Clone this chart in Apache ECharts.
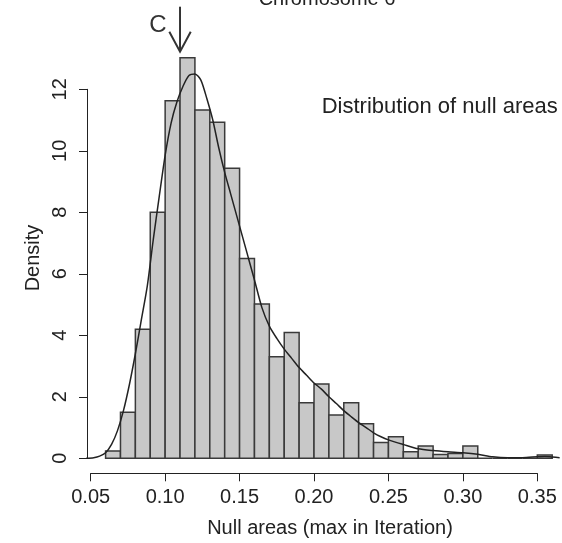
<!DOCTYPE html>
<html>
<head>
<meta charset="utf-8">
<script src="https://cdn.jsdelivr.net/npm/echarts@6/dist/echarts.min.js"></script>
<style>html,body{margin:0;padding:0;background:#fff}#c{width:562px;height:543px}</style>
</head>
<body>
<div id="c"></div>
<script>
// ---- data ----
const binLeft = [0.06,0.07,0.08,0.09,0.10,0.11,0.12,0.13,0.14,0.15,0.16,0.17,0.18,0.19,0.20,0.21,0.22,0.23,0.24,0.25,0.26,0.27,0.28,0.29,0.30,0.31,0.32,0.33,0.34,0.35];
const binRight = [0.07,0.08,0.09,0.10,0.11,0.12,0.13,0.14,0.15,0.16,0.17,0.18,0.19,0.20,0.21,0.22,0.23,0.24,0.25,0.26,0.27,0.28,0.29,0.30,0.31,0.32,0.33,0.34,0.35,0.36];
const binDensity = [0.24,1.50,4.20,8.00,11.63,13.03,11.33,10.93,9.43,6.50,5.02,3.30,4.09,1.81,2.42,1.41,1.81,1.12,0.51,0.70,0.21,0.40,0.12,0.16,0.40,0,0,0,0,0.11];
const curveX = [0.047,0.052,0.056,0.060,0.064,0.068,0.072,0.076,0.080,0.084,0.088,0.092,0.096,0.100,0.104,0.108,0.112,0.116,0.120,0.124,0.128,0.132,0.136,0.140,0.144,0.148,0.152,0.156,0.160,0.165,0.170,0.175,0.180,0.185,0.190,0.195,0.200,0.205,0.210,0.215,0.220,0.225,0.230,0.235,0.240,0.245,0.250,0.260,0.270,0.280,0.290,0.300,0.310,0.320,0.330,0.340,0.350,0.355,0.360,0.365];
const curveY = [0.0,0.02,0.07,0.18,0.45,0.90,1.55,2.40,3.40,4.50,5.60,7.10,8.50,9.85,10.90,11.60,12.10,12.45,12.50,12.30,11.70,11.00,10.10,9.30,8.60,7.90,7.20,6.50,5.80,4.90,4.30,3.90,3.55,3.25,2.95,2.70,2.45,2.25,2.00,1.78,1.55,1.35,1.16,1.00,0.83,0.70,0.60,0.45,0.31,0.25,0.21,0.18,0.13,0.05,0.02,0.02,0.05,0.06,0.04,0.02];
const xTicks = ['0.05','0.10','0.15','0.20','0.25','0.30','0.35'];
const yTicks = ['0','2','4','6','8','10','12'];
const titleText = 'Chromosome 6';
const xTitle = 'Null areas (max in Iteration)';
const yTitle = 'Density';
const noteText = 'Distribution of null areas';
const markerLabel = 'C';
const markerValue = 0.11;

const FONT = '"Liberation Sans", Arial, Helvetica, sans-serif';
const TXT = '#222';

const histData = binLeft.map((l, i) => [l, binRight[i], binDensity[i]]);
const lineData = curveX.map((x, i) => [x, curveY[i]]);

const chart = echarts.init(document.getElementById('c'), null, {renderer: 'canvas'});

const option = {
  animation: false,
  backgroundColor: '#fff',
  grid: [
    {left: 87, right: 0, top: 89.3, bottom: 84.7, containLabel: false},
    {left: 90.7, right: 24.7, bottom: 69.7, height: 1, containLabel: false}
  ],
  xAxis: [
    {gridIndex: 0, type: 'value', min: 0.04751, max: 0.36658, show: false},
    {gridIndex: 1, type: 'value', min: 0.05, max: 0.35, interval: 0.05,
     axisLine: {show: true, lineStyle: {color: TXT, width: 1}},
     axisTick: {show: true, length: 8, lineStyle: {color: TXT, width: 1}},
     splitLine: {show: false},
     axisLabel: {margin: 14, color: TXT, fontSize: 20, fontFamily: FONT,
       formatter: (v) => { const i = Math.round((v - 0.05) / 0.05); return xTicks[i] !== undefined ? xTicks[i] : ''; }}
    }
  ],
  yAxis: [
    {gridIndex: 0, type: 'value', min: 0, max: 12, interval: 2,
     axisLine: {show: true, lineStyle: {color: TXT, width: 1}},
     axisTick: {show: true, length: 8, lineStyle: {color: TXT, width: 1}},
     splitLine: {show: false},
     axisLabel: {margin: 17, rotate: 90, color: TXT, fontSize: 20, fontFamily: FONT,
       formatter: (v) => { const i = Math.round(v / 2); return yTicks[i] !== undefined ? yTicks[i] : ''; }}
    },
    {gridIndex: 1, type: 'value', show: false, min: 0, max: 1}
  ],
  series: [
    {
      type: 'custom',
      xAxisIndex: 0, yAxisIndex: 0,
      clip: false,
      data: histData,
      encode: {x: [0, 1], y: 2},
      renderItem: function (params, api) {
        const p0 = api.coord([api.value(0), api.value(2)]);
        const p1 = api.coord([api.value(1), 0]);
        return {
          type: 'rect',
          shape: {x: p0[0], y: p0[1], width: p1[0] - p0[0], height: p1[1] - p0[1]},
          style: {fill: '#c8c8c8', stroke: '#3a3a3a', lineWidth: 1.5}
        };
      }
    },
    {
      type: 'line',
      xAxisIndex: 0, yAxisIndex: 0,
      clip: false,
      data: lineData,
      smooth: 0.25,
      showSymbol: false,
      lineStyle: {color: '#222', width: 1.5}
    }
  ]
};
chart.setOption(option);

const ax = chart.convertToPixel({xAxisIndex: 0}, markerValue);
chart.setOption({
  graphic: [
    {type: 'text', x: 327, y: -1, style: {text: titleText, font: '20px ' + FONT, fill: TXT, textAlign: 'center', textVerticalAlign: 'middle'}},
    {type: 'text', x: 557.7, y: 107, style: {text: noteText, font: '22px ' + FONT, fill: TXT, textAlign: 'right', textVerticalAlign: 'middle'}},
    {type: 'text', x: 33, y: 258, rotation: Math.PI / 2, style: {text: yTitle, font: '20px ' + FONT, fill: TXT, textAlign: 'center', textVerticalAlign: 'middle'}},
    {type: 'text', x: 330, y: 528, style: {text: xTitle, font: '20px ' + FONT, fill: TXT, textAlign: 'center', textVerticalAlign: 'middle'}},
    {type: 'text', x: ax - 22, y: 25, style: {text: markerLabel, font: '24px ' + FONT, fill: '#333', textAlign: 'center', textVerticalAlign: 'middle'}},
    {type: 'line', shape: {x1: ax, y1: 6.7, x2: ax, y2: 51.7}, style: {stroke: '#333', lineWidth: 2}},
    {type: 'polyline', shape: {points: [[ax - 10.7, 31.7], [ax, 51.7], [ax + 10.7, 31.7]]}, style: {stroke: '#333', lineWidth: 2, fill: null}}
  ]
});
</script>
</body>
</html>
